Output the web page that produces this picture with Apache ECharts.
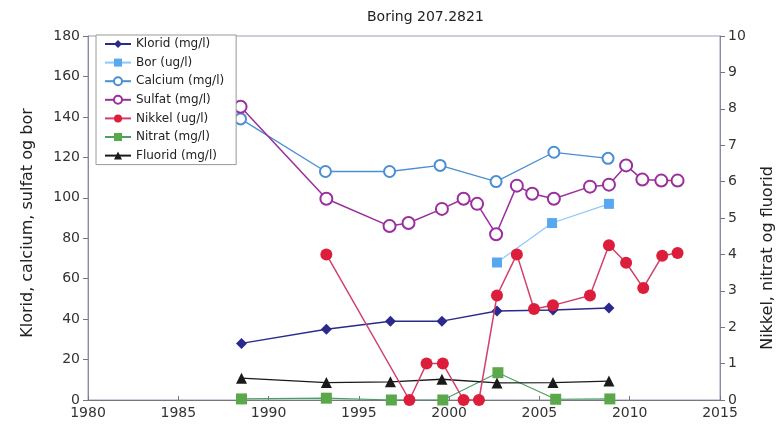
<!DOCTYPE html>
<html><head><meta charset="utf-8">
<script src="https://cdn.jsdelivr.net/npm/echarts@6/dist/echarts.min.js"></script>
<style>html,body{margin:0;padding:0;background:#fff}#c{width:778px;height:438px}</style>
</head><body><div id="c"></div>
<script>
// ---- data (x = decimal year) ----
const klorX   = [1988.5, 1993.2, 1996.75, 1999.6, 2002.65, 2005.75, 2008.85];
const klorid  = [28, 35, 39, 39, 44, 44.5, 45.5];
const borX    = [2002.65, 2005.7, 2008.85];
const bor     = [68, 87.5, 97];
const calcX   = [1988.45, 1993.15, 1996.7, 1999.5, 2002.6, 2005.8, 2008.8];
const calcium = [139, 113, 113, 116, 108, 122.5, 119.5];
const sulfX   = [1988.45, 1993.2, 1996.7, 1997.75, 1999.6, 2000.8, 2001.55, 2002.6, 2003.75, 2004.6, 2005.8, 2007.8, 2008.85, 2009.8, 2010.7, 2011.75, 2012.65];
const sulfat  = [145, 99.5, 86, 87.5, 94.5, 99.5, 97, 82, 106, 102, 99.5, 105.5, 106.5, 116, 109, 108.5, 108.5];
const nikX    = [1993.2, 1997.8, 1998.75, 1999.65, 2000.8, 2001.65, 2002.65, 2003.75, 2004.7, 2005.75, 2007.8, 2008.85, 2009.8, 2010.75, 2011.8, 2012.65];
const nikkel  = [4.0, 0, 1.0, 1.0, 0, 0, 2.87, 4.0, 2.5, 2.6, 2.87, 4.25, 3.77, 3.08, 3.96, 4.04];
const nitX    = [1988.5, 1993.2, 1996.8, 1999.65, 2002.7, 2005.9, 2008.9];
const nitrat  = [0.03, 0.05, 0, 0, 0.75, 0.02, 0.03];
const fluX    = [1988.5, 1993.2, 1996.75, 1999.6, 2002.65, 2005.75, 2008.85];
const fluorid = [0.6, 0.48, 0.5, 0.57, 0.47, 0.48, 0.52];
const names = ['Klorid (mg/l)', 'Bor (ug/l)', 'Calcium (mg/l)', 'Sulfat (mg/l)', 'Nikkel (ug/l)', 'Nitrat (mg/l)', 'Fluorid (mg/l)'];
const titleText = 'Boring 207.2821';
const leftName = 'Klorid, calcium, sulfat og bor';
const rightName = 'Nikkel, nitrat og fluorid';

const zip = (xs, ys) => xs.map((x, i) => [x, ys[i]]);
const FONT = 'DejaVu Sans';

function mk(name, xs, ys, yIdx, color, lineColor, symbol, size, lw, z) {
  return {
    name, type: 'line', yAxisIndex: yIdx, data: zip(xs, ys),
    symbol, symbolSize: size, showSymbol: true, z: z,
    lineStyle: { color: lineColor, width: lw },
    itemStyle: { color: color, borderColor: color, borderWidth: symbol === 'emptyCircle' ? 1.5 : 0 },
    emphasis: { disabled: true }, animation: false
  };
}

const chart = echarts.init(document.getElementById('c'));
chart.setOption({
  animation: false,
  title: { text: titleText, left: 362, top: 5, textStyle: { fontFamily: FONT, fontSize: 14, fontWeight: 'normal', color: '#222' } },
  grid: { left: 88, right: 58, top: 36, bottom: 38, show: true, borderColor: '#9a9ac0', borderWidth: 1, backgroundColor: 'transparent', containLabel: false, outerBoundsMode: 'none' },
  legend: {
    orient: 'vertical', left: 96, top: 35, data: names,
    itemWidth: 26, itemHeight: 10, itemGap: 6.6,
    backgroundColor: '#fff', borderColor: '#999', borderWidth: 1, borderRadius: 0,
    padding: [3, 12, 3, 8],
    textStyle: { fontFamily: FONT, fontSize: 12, color: '#222' }
  },
  xAxis: {
    type: 'value', min: 1980, max: 2015, interval: 5,
    axisLine: { lineStyle: { color: '#777' } },
    axisTick: { inside: true, length: 4, lineStyle: { color: '#777' } },
    axisLabel: { fontFamily: FONT, fontSize: 14, color: '#333', margin: 6, formatter: v => String(v) },
    splitLine: { show: false }
  },
  yAxis: [
    {
      type: 'value', min: 0, max: 180, interval: 20, position: 'left',
      name: leftName, nameLocation: 'middle', nameRotate: 90, nameGap: 52,
      nameTextStyle: { fontFamily: FONT, fontSize: 16, color: '#222', padding: [0, 10, 0, 0] },
      axisLine: { show: true, lineStyle: { color: '#8a8aa8' } },
      axisTick: { show: true, length: 5, lineStyle: { color: '#777' } },
      axisLabel: { fontFamily: FONT, fontSize: 14, color: '#333', margin: 8 },
      splitLine: { show: false }
    },
    {
      type: 'value', min: 0, max: 10, interval: 1, position: 'right',
      name: rightName, nameLocation: 'middle', nameRotate: 90, nameGap: 40,
      nameTextStyle: { fontFamily: FONT, fontSize: 16, color: '#222', padding: [0, 80, 0, 0] },
      axisLine: { show: true, lineStyle: { color: '#8a8aa8' } },
      axisTick: { show: true, length: 5, lineStyle: { color: '#777' } },
      axisLabel: { fontFamily: FONT, fontSize: 14, color: '#333', margin: 8 },
      splitLine: { show: false }
    }
  ],
  series: [
    mk(names[0], klorX, klorid, 0, '#2a2a8c', '#2a2a8c', 'diamond', 11, 1.5, 5),
    mk(names[1], borX, bor, 0, '#58a8f0', '#8cc8f8', 'rect', 10, 1.2, 4),
    mk(names[2], calcX, calcium, 0, '#4a8ed4', '#4a8ed4', 'emptyCircle', 11, 1.3, 3),
    mk(names[3], sulfX, sulfat, 0, '#9a2e9e', '#9a2e9e', 'emptyCircle', 12, 1.5, 3),
    mk(names[4], nikX, nikkel, 1, '#dc1e3c', '#d0406a', 'circle', 12, 1.5, 6),
    mk(names[5], nitX, nitrat, 1, '#5aa84a', '#4aa060', 'rect', 11, 1.2, 4),
    mk(names[6], fluX, fluorid, 1, '#1a1a1a', '#1a1a1a', 'triangle', 11, 1.3, 4)
  ]
});
</script></body></html>
